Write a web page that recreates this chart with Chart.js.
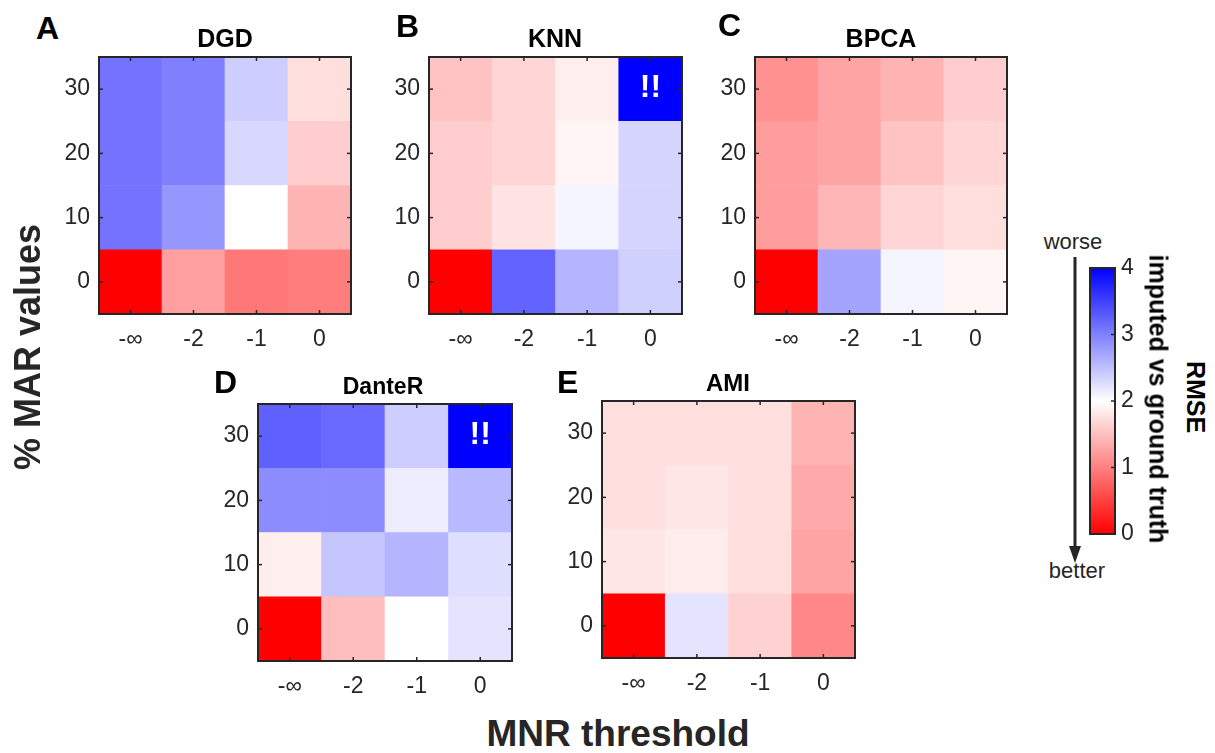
<!DOCTYPE html>
<html><head><meta charset="utf-8">
<script src="https://cdn.jsdelivr.net/npm/chart.js@4.4.0/dist/chart.umd.min.js"></script>
<style>
body{margin:0;background:#fff;width:1215px;height:753px;position:relative;overflow:hidden;font-family:"Liberation Sans",Arial,sans-serif;}
.p{position:absolute}
.t{position:absolute;white-space:nowrap;line-height:1;}
</style></head><body>
<script>
// ---------- data ----------
const mnrLabels = ['-\u221E', '-2', '-1', '0'];   // x categories (MNR threshold)
const marLabels = ['0', '10', '20', '30'];         // y categories (% MAR values)
// rows: MAR 0,10,20,30 ; columns: MNR -inf,-2,-1,0 ; RMSE values
const dgdRMSE = [
  [0.00, 1.25, 0.94, 0.98],
  [3.10, 2.82, 2.00, 1.41],
  [3.10, 3.00, 2.31, 1.61],
  [3.10, 3.00, 2.39, 1.74]];
const knnRMSE = [
  [0.00, 3.22, 2.59, 2.37],
  [1.61, 1.79, 2.08, 2.33],
  [1.61, 1.67, 1.92, 2.33],
  [1.53, 1.67, 1.87, 4.00]];
const bpcaRMSE = [
  [0.00, 2.71, 2.08, 1.92],
  [1.22, 1.43, 1.67, 1.74],
  [1.22, 1.29, 1.53, 1.67],
  [1.14, 1.29, 1.41, 1.61]];
const danterRMSE = [
  [0.00, 1.49, 2.00, 2.21],
  [1.87, 2.45, 2.59, 2.26],
  [2.90, 2.90, 2.14, 2.55],
  [3.25, 3.18, 2.39, 4.00]];
const amiRMSE = [
  [0.00, 2.21, 1.65, 1.06],
  [1.80, 1.86, 1.74, 1.29],
  [1.74, 1.80, 1.74, 1.33],
  [1.74, 1.74, 1.74, 1.41]];
// cells marked "!!" (row index, column index)
const knnFlags = [[3, 3]];
const danterFlags = [[3, 3]];
const colorbarTicks = [0, 1, 2, 3, 4];

// ---------- helpers ----------
const FONT = '"Liberation Sans", Arial, sans-serif';
const DARK = '#262626';
Chart.defaults.font.family = FONT;
Chart.defaults.color = DARK;

function cmap(v) {
  v = Math.max(0, Math.min(4, v));
  let r, g, b;
  if (v <= 2) { r = 255; g = b = Math.round(255 * v / 2); }
  else { b = 255; r = g = Math.round(255 * (4 - v) / 2); }
  return `rgb(${r},${g},${b})`;
}

function noPad(s) { s.paddingTop = 0; s.paddingBottom = 0; s.paddingLeft = 0; s.paddingRight = 0; }

const framePlugin = {
  id: 'frame',
  afterDraw(chart, args, opts) {
    const { ctx, chartArea: a, scales } = chart;
    ctx.save();
    ctx.strokeStyle = DARK;
    ctx.lineWidth = 1.5;
    const tl = 4;
    const line = (x1, y1, x2, y2) => { ctx.beginPath(); ctx.moveTo(x1, y1); ctx.lineTo(x2, y2); ctx.stroke(); };
    if (opts.xTicks && scales.x) {
      scales.x.ticks.forEach((t, i) => {
        const x = scales.x.getPixelForTick(i);
        line(x, a.bottom, x, a.bottom - tl);
        line(x, a.top, x, a.top + tl);
      });
    }
    if (scales.y) {
      scales.y.ticks.forEach((t, i) => {
        const y = scales.y.getPixelForTick(i);
        if (opts.yLeft) line(a.left, y, a.left + tl, y);
        line(a.right, y, a.right - tl, y);
      });
    }
    ctx.lineWidth = 2;
    ctx.strokeRect(a.left, a.top, a.width, a.height);
    // "!!" markers
    (opts.flags || []).forEach(([r, c]) => {
      ctx.fillStyle = '#fff';
      ctx.font = 'bold 32px ' + FONT;
      ctx.textAlign = 'center';
      ctx.textBaseline = 'middle';
      ctx.fillText('!!', scales.x.getPixelForValue(c), scales.y.getPixelForValue(r) - 1);
    });
    ctx.restore();
  }
};

function makePanel(values, box, flags) {
  const div = document.createElement('div');
  div.className = 'p';
  const padR = 10, padT = 10, yW = 70, xH = 40;
  div.style.left = (box.L - yW) + 'px';
  div.style.top = (box.T - padT) + 'px';
  div.style.width = (box.W + yW + padR) + 'px';
  div.style.height = (box.H + padT + xH) + 'px';
  const cv = document.createElement('canvas');
  div.appendChild(cv);
  document.body.appendChild(div);
  const datasets = values.map((row, r) => ({
    data: row.map(() => [r - 0.5, r + 0.5]),
    backgroundColor: row.map(cmap),
    borderWidth: 0,
    barPercentage: 1,
    categoryPercentage: 1,
    grouped: false
  }));
  new Chart(cv, {
    type: 'bar',
    data: { labels: mnrLabels, datasets },
    plugins: [framePlugin],
    options: {
      responsive: true, maintainAspectRatio: false, animation: false,
      layout: { padding: { left: 0, top: padT, right: padR, bottom: 0 } },
      plugins: { legend: { display: false }, tooltip: { enabled: false },
        frame: { xTicks: true, yLeft: true, flags } },
      scales: {
        x: {
          grid: { display: false, drawTicks: false }, border: { display: false },
          ticks: { color: DARK, font: { size: 23 }, padding: 12, maxRotation: 0, autoSkip: false },
          afterFit: s => { s.height = xH; noPad(s); }
        },
        y: {
          min: -0.5, max: 3.5,
          grid: { display: false, drawTicks: false }, border: { display: false },
          afterBuildTicks: s => { s.ticks = marLabels.map((_, i) => ({ value: i })); },
          ticks: { color: DARK, font: { size: 23 }, padding: 9, callback: v => marLabels[v] },
          afterFit: s => { s.width = yW; noPad(s); }
        }
      }
    }
  });
}

function text(str, opt) {
  const s = document.createElement('span');
  s.className = 't';
  s.textContent = str;
  s.style.fontSize = opt.size + 'px';
  s.style.fontWeight = opt.bold ? 'bold' : 'normal';
  s.style.color = opt.color || '#000';
  if (opt.rotate) {
    s.style.left = opt.cx + 'px';
    s.style.top = opt.cy + 'px';
    s.style.transform = `translate(-50%,-50%) rotate(${opt.rotate}deg)`;
  } else {
    s.style.top = (opt.base - 0.8465 * opt.size) + 'px';
    if (opt.cx !== undefined) { s.style.left = opt.cx + 'px'; s.style.transform = 'translateX(-50%)'; }
    else s.style.left = opt.x + 'px';
  }
  document.body.appendChild(s);
}

// ---------- panels ----------
makePanel(dgdRMSE,    { L: 99,  T: 57,  W: 252, H: 257 }, []);
makePanel(knnRMSE,    { L: 429, T: 57,  W: 253, H: 257 }, knnFlags);
makePanel(bpcaRMSE,   { L: 755, T: 57,  W: 252, H: 257 }, []);
makePanel(danterRMSE, { L: 258, T: 404, W: 254, H: 257 }, danterFlags);
makePanel(amiRMSE,    { L: 602, T: 401, W: 253, H: 257 }, []);

// panel titles
text('DGD',    { cx: 225, base: 47,  size: 25, bold: true });
text('KNN',    { cx: 555, base: 47,  size: 25, bold: true });
text('BPCA',   { cx: 881, base: 47,  size: 25, bold: true });
text('DanteR', { cx: 383, base: 394, size: 23, bold: true });
text('AMI',    { cx: 728, base: 391, size: 24, bold: true });
// panel letters
text('A', { x: 36,  base: 39,  size: 32, bold: true });
text('B', { x: 396, base: 37,  size: 32, bold: true });
text('C', { x: 718, base: 36,  size: 32, bold: true });
text('D', { x: 214, base: 393, size: 32, bold: true });
text('E', { x: 557, base: 393, size: 32, bold: true });
// axis labels
text('% MAR values', { cx: 28, cy: 347, size: 36, bold: true, color: DARK, rotate: -90 });
text('MNR threshold', { cx: 618, base: 746, size: 37, bold: true, color: DARK });

// ---------- colorbar ----------
(function () {
  const L = 1090, T = 268, W = 25, H = 266, axW = 50, pad = 10;
  const div = document.createElement('div');
  div.className = 'p';
  div.style.left = (L - pad) + 'px';
  div.style.top = (T - pad) + 'px';
  div.style.width = (pad + W + axW) + 'px';
  div.style.height = (H + 2 * pad) + 'px';
  const cv = document.createElement('canvas');
  div.appendChild(cv);
  document.body.appendChild(div);
  const lo = colorbarTicks[0], hi = colorbarTicks[colorbarTicks.length - 1];
  new Chart(cv, {
    type: 'bar',
    data: { labels: [''], datasets: [{
      data: [[lo, hi]],
      borderWidth: 0, barPercentage: 1, categoryPercentage: 1,
      backgroundColor: (c) => {
        const ch = c.chart;
        if (!ch.chartArea) return '#fff';
        const y = ch.scales.y;
        const g = ch.ctx.createLinearGradient(0, y.getPixelForValue(lo), 0, y.getPixelForValue(hi));
        [0, 1, 2, 3, 4].forEach(v => g.addColorStop(v / 4, cmap(lo + (hi - lo) * v / 4)));
        return g;
      }
    }] },
    plugins: [framePlugin],
    options: {
      responsive: true, maintainAspectRatio: false, animation: false,
      layout: { padding: { left: pad, top: pad, right: 0, bottom: pad } },
      plugins: { legend: { display: false }, tooltip: { enabled: false },
        frame: { xTicks: false, yLeft: false } },
      scales: {
        x: { display: false },
        y: {
          position: 'right', min: lo, max: hi,
          grid: { display: false, drawTicks: false }, border: { display: false },
          afterBuildTicks: s => { s.ticks = colorbarTicks.map(v => ({ value: v })); },
          ticks: { color: DARK, font: { size: 23 }, padding: 6 },
          afterFit: s => { s.width = axW; noPad(s); }
        }
      }
    }
  });
})();

text('worse',  { cx: 1073, base: 250, size: 22, color: DARK });
text('better', { cx: 1077, base: 579, size: 22, color: DARK });
text('RMSE', { cx: 1195, cy: 397, size: 25, bold: true, rotate: 90 });
text('imputed vs ground truth', { cx: 1158, cy: 399, size: 25, bold: true, rotate: 90 });
</script>
<svg class="p" style="left:1060px;top:250px" width="30" height="320">
  <line x1="15" y1="7" x2="15" y2="300" stroke="#262626" stroke-width="3"/>
  <polygon points="9,296 21,296 15,313" fill="#262626"/>
</svg>
</body></html>
